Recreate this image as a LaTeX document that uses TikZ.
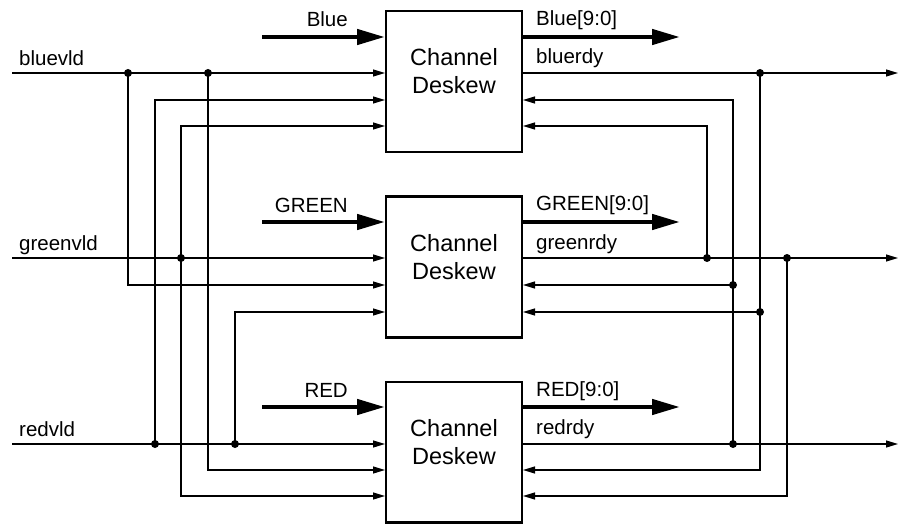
\documentclass[tikz,border=0pt]{standalone}
\usepackage{fontspec}
\setmainfont{Liberation Sans}
\usetikzlibrary{arrows.meta}
\begin{document}
\begin{tikzpicture}[x=1pt,y=-1pt,
  box/.style={draw, line width=2.4pt, minimum width=135.6pt, minimum height=140.6pt, inner sep=0pt},
  title/.style={font=\fontsize{23.5}{28}\selectfont, align=center, inner sep=0pt},
  lbl/.style={font=\fontsize{20.5}{24}\selectfont, inner sep=0pt},
  sig/.style={line width=1.2pt, -{Triangle[length=12pt,width=7pt]}},
  bus/.style={line width=4.5pt, -{Triangle[length=28pt,width=15pt]}},
  dot/.style={circle, fill, inner sep=0pt, minimum size=8pt}
]
\useasboundingbox (0,0) rectangle (900,524);

% deskew blocks
\node[box] (B) at (454,81.5) {};
\node[box] (G) at (454,267) {};
\node[box] (R) at (454,452) {};
\node[title] (Bt) at (454,71) {Channel\\Deskew};
\node[title] (Gt) at (454,257) {Channel\\Deskew};
\node[title] (Rt) at (454,442) {Channel\\Deskew};

% free ends of the wires
\coordinate (bvIn) at (12,73);
\coordinate (gvIn) at (12,258);
\coordinate (rvIn) at (12,444);
\coordinate (brOut) at (898,73);
\coordinate (grOut) at (898,258);
\coordinate (rrOut) at (898,444);
\coordinate (bBusIn) at (262,37);
\coordinate (gBusIn) at (262,222);
\coordinate (rBusIn) at (262,407);
\coordinate (bBusOut) at (680,37);
\coordinate (gBusOut) at (680,222);
\coordinate (rBusOut) at (680,407);

% junction dots
\node[dot] (jA) at (128,73) {};
\node[dot] (jD) at (208,73) {};
\node[dot] (jC) at (181,258) {};
\node[dot] (jB) at (155,444) {};
\node[dot] (jE) at (235,444) {};
\node[dot] (jH) at (760,73) {};
\node[dot] (jF) at (707,258) {};
\node[dot] (jI) at (787,258) {};
\node[dot] (jG) at (733,444) {};
\node[dot] (jG2) at (733,285) {};
\node[dot] (jH2) at (760,312) {};

% valid inputs
\draw[sig] (bvIn) -- (bvIn -| B.west);
\draw[sig] (gvIn) -- (gvIn -| G.west);
\draw[sig] (rvIn) -- (rvIn -| R.west);
\draw[sig] (jA.center) |- (G.west |- 0,285);
\draw[sig] (jD.center) |- (R.west |- 0,470);
\draw[sig] (jB.center) |- (B.west |- 0,100);
\draw[sig] (jC.center) |- (B.west |- 0,126);
\draw[sig] (jC.center) |- (R.west |- 0,496);
\draw[sig] (jE.center) |- (G.west |- 0,312);

% ready outputs and feedback
\draw[sig] (B.east |- 0,73) -- (brOut);
\draw[sig] (G.east |- 0,258) -- (grOut);
\draw[sig] (R.east |- 0,444) -- (rrOut);
\draw[sig] (jH.center) |- (R.east |- 0,470);
\draw[sig] (jH2.center) -- (G.east |- 0,312);
\draw[sig] (jG.center) |- (B.east |- 0,100);
\draw[sig] (jG2.center) -- (G.east |- 0,285);
\draw[sig] (jF.center) |- (B.east |- 0,126);
\draw[sig] (jI.center) |- (R.east |- 0,496);

% data buses
\draw[bus] (bBusIn) -- (bBusIn -| B.west);
\draw[bus] (gBusIn) -- (gBusIn -| G.west);
\draw[bus] (rBusIn) -- (rBusIn -| R.west);
\draw[bus] (B.east |- bBusOut) -- (bBusOut);
\draw[bus] (G.east |- gBusOut) -- (gBusOut);
\draw[bus] (R.east |- rBusOut) -- (rBusOut);

% labels
\node[lbl, anchor=base east] (lB) at (348,27) {Blue};
\node[lbl, anchor=base west] (lBo) at (536,26) {Blue[9:0]};
\node[lbl, anchor=base west] (lbv) at (19,66) {bluevld};
\node[lbl, anchor=base west] (lbr) at (536,64) {bluerdy};
\node[lbl, anchor=base east] (lG) at (348,212) {GREEN};
\node[lbl, anchor=base west] (lGo) at (536,211) {GREEN[9:0]};
\node[lbl, anchor=base west] (lgv) at (19,250) {greenvld};
\node[lbl, anchor=base west] (lgr) at (536,249) {greenrdy};
\node[lbl, anchor=base east] (lR) at (348,397) {RED};
\node[lbl, anchor=base west] (lRo) at (536,396) {RED[9:0]};
\node[lbl, anchor=base west] (lrv) at (19,436) {redvld};
\node[lbl, anchor=base west] (lrr) at (536,434) {redrdy};
\end{tikzpicture}
\end{document}
